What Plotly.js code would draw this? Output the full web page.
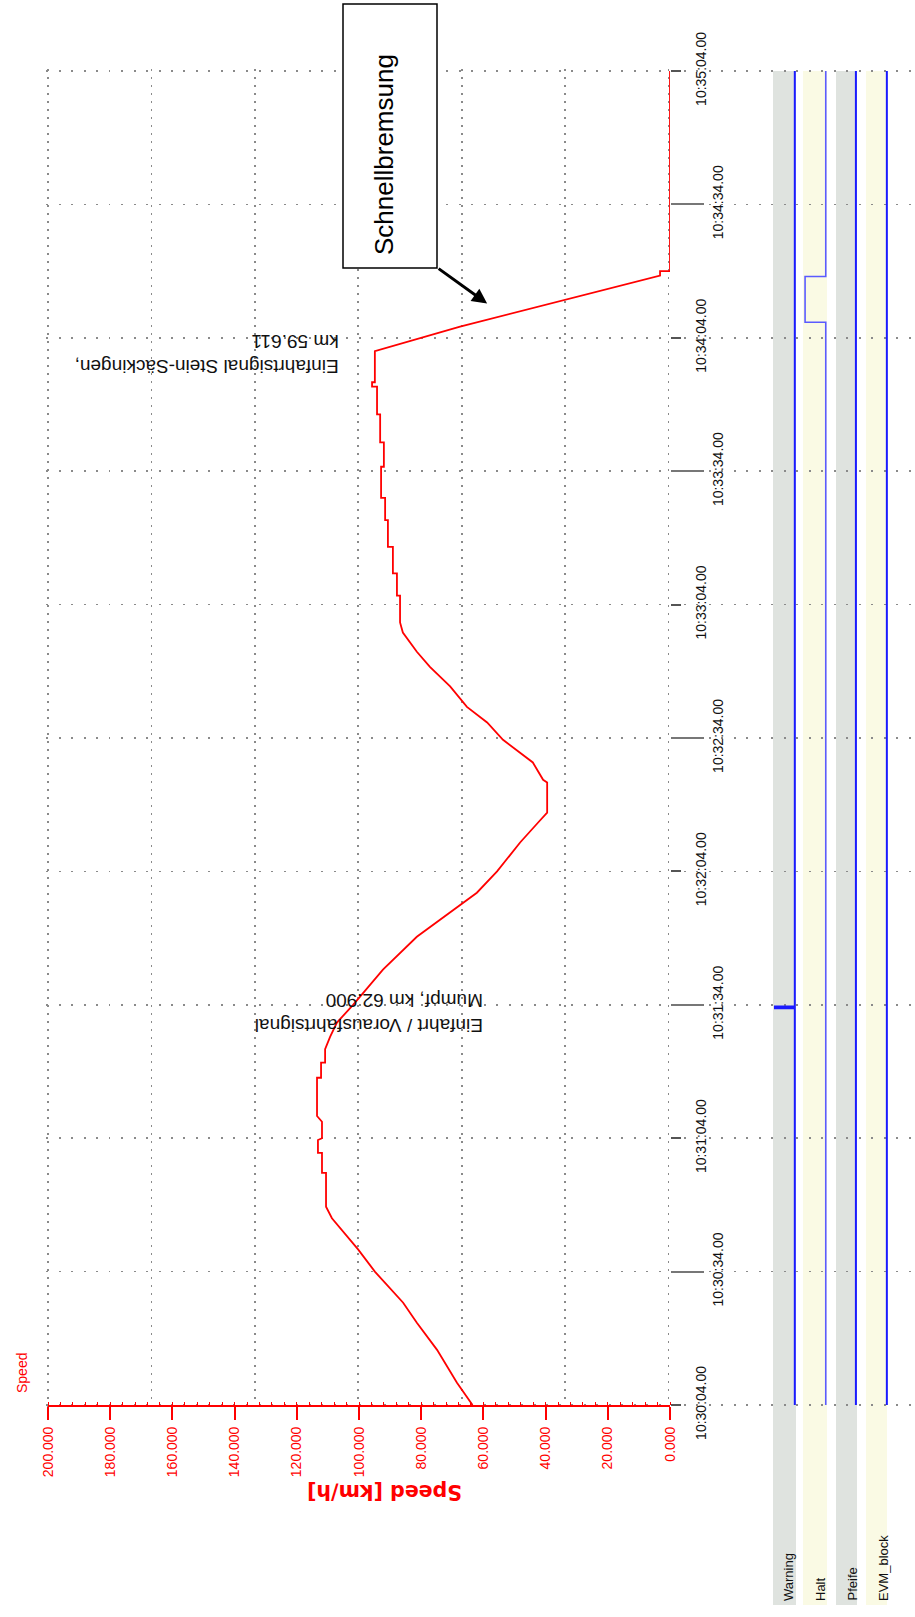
<!DOCTYPE html>
<html>
<head>
<meta charset="utf-8">
<script src="https://cdn.plot.ly/plotly-3.0.1.min.js"></script>
<style>html,body{margin:0;padding:0;background:#fff;}#chart{width:915px;height:1617px;}</style>
</head>
<body>
<div id="chart"></div>
<script>
// ---- data ----
const speedTimes = ['10:30:04','10:30:09','10:30:16.4','10:30:22.5','10:30:27','10:30:34','10:30:39','10:30:43','10:30:46','10:30:48.6','10:30:56.2','10:30:56.2','10:31:00.7','10:31:00.7','10:31:03.6','10:31:04','10:31:07.7','10:31:09','10:31:17.6','10:31:17.6','10:31:21','10:31:21','10:31:24','10:31:26.8','10:31:30','10:31:34','10:31:41.9','10:31:49.3','10:31:54.7','10:31:59.2','10:32:04','10:32:10.5','10:32:15','10:32:17.2','10:32:24','10:32:24.6','10:32:28.5','10:32:30.7','10:32:33.6','10:32:37.5','10:32:41','10:32:45.6','10:32:50','10:32:53.4','10:32:57.7','10:33:00','10:33:06','10:33:06','10:33:11','10:33:11','10:33:17','10:33:17','10:33:23','10:33:23','10:33:28','10:33:28','10:33:35','10:33:35','10:33:40.5','10:33:40.5','10:33:46.8','10:33:46.8','10:33:53','10:33:53','10:33:54','10:33:54','10:34:01','10:34:06.5','10:34:18','10:34:19','10:34:19','10:35:04'];
const speedValues = [63.5,68.5,74.9,81.4,85.8,94.9,100.3,105.1,108.7,110.6,110.6,111.9,111.9,113.2,113.2,111.9,111.9,113.5,113.5,112.2,112.2,110.9,110.9,109.3,107.1,101.9,92.3,81.4,70.7,62.1,55.6,48.2,42.4,39.5,39.5,40.8,44.1,48.2,53.7,58.8,65.3,70.7,77.2,81.4,85.9,86.8,86.8,87.8,87.8,89.1,89.1,90.7,90.7,91.6,91.6,92.9,92.9,92.0,92.0,93.2,93.2,94.2,94.2,95.8,95.8,94.9,94.9,67.5,3.2,3.2,0,0];

const channelNames = ['Warning','Halt','Pfeife','EVM_block'];
const warningTimes = ['10:30:04','10:31:33.2','10:31:33.2','10:31:33.6','10:31:33.6','10:35:04'];
const warningValues = [0,0,1,1,0,0];
const haltTimes = ['10:30:04','10:34:07.5','10:34:07.5','10:34:17.8','10:34:17.8','10:35:04'];
const haltValues = [0,0,1,1,0,0];
const pfeifeTimes = ['10:30:04','10:35:04'];
const pfeifeValues = [0,0];
const evmTimes = ['10:30:04','10:35:04'];
const evmValues = [0,0];

const speedTickVals = [0,20,40,60,80,100,120,140,160,180,200];
const speedTickLabels = ['0.000','20.000','40.000','60.000','80.000','100.000','120.000','140.000','160.000','180.000','200.000'];
const timeTicksA = ['10:30:04','10:31:04','10:32:04','10:33:04','10:34:04','10:35:04'];
const timeLabelsA = ['10:30:04.00','10:31:04.00','10:32:04.00','10:33:04.00','10:34:04.00','10:35:04.00'];
const timeTicksB = ['10:30:34','10:31:34','10:32:34','10:33:34','10:34:34'];
const timeLabelsB = ['10:30:34.00','10:31:34.00','10:32:34.00','10:33:34.00','10:34:34.00'];

const note1 = {text: 'Einfahrtsignal Stein-Säckingen,<br>km 59.611', speed: 106, time: '10:34:00.5'};
const note2 = {text: 'Einfahrt / Vorausfahrtsignal<br>Mumpf, km 62.900', speed: 59.5, time: '10:31:32.2'};
const brakeNote = {text: 'Schnellbremsung', speed: 58.8, time: '10:34:11.7'};

// ---- helpers ----
const D = s => '2000-01-01 ' + s;
const W = 915, H = 1617;
const px = v => v / W;
const py = v => 1 - v / H;
const NARROW = '"Liberation Sans Narrow", "Arial Narrow", "Liberation Sans", Arial, sans-serif';
const RED = '#ff0000';
const GRID = '#8a8a8a';
const KMH_PER_PX = 200 / 622;            // speed axis scale (200 km/h over 622 px)
const tRange = [D('10:30:04'), D('10:35:04')];
const tRangeWide = [D('10:30:03.55'), D('10:35:04.45')];
const yDom = [py(1405), py(71)];
const yDomWide = [py(1407), py(69)];
const gridSpeedVals = [0,1,2,3,4,5,6].map(i => i * 100 / 3);

const traces = [
  // background grid subplot (no marks)
  {x: [], y: [], xaxis: 'x', yaxis: 'y', type: 'scatter', mode: 'lines', hoverinfo: 'skip'},
  {x: speedValues, y: speedTimes.map(D), xaxis: 'x2', yaxis: 'y2', type: 'scatter', mode: 'lines',
   line: {color: RED, width: 1.8}, hoverinfo: 'skip'},
  {x: warningValues, y: warningTimes.map(D), xaxis: 'x3', yaxis: 'y3', type: 'scatter', mode: 'lines', line: {color: '#1a1aff', width: 2}},
  {x: haltValues, y: haltTimes.map(D), xaxis: 'x4', yaxis: 'y3', type: 'scatter', mode: 'lines', line: {color: '#5a5aff', width: 1.6}},
  {x: pfeifeValues, y: pfeifeTimes.map(D), xaxis: 'x5', yaxis: 'y3', type: 'scatter', mode: 'lines', line: {color: '#1a1aff', width: 2}},
  {x: evmValues, y: evmTimes.map(D), xaxis: 'x6', yaxis: 'y3', type: 'scatter', mode: 'lines', line: {color: '#1a1aff', width: 2}}
];

const hidden = {showticklabels: false, showline: false, showgrid: false, zeroline: false, ticks: ''};
const chanRange = [1.1, -0.06];

const bands = [[773,796,'#dfe3df'],[803,827,'#fafae4'],[836,857,'#dfe3df'],[866,887,'#fafae4']];
const shapes = bands.map(b => ({type: 'rect', xref: 'paper', yref: 'paper', x0: px(b[0]), x1: px(b[1]), y0: py(1605), y1: py(71),
  fillcolor: b[2], line: {width: 0}, layer: 'below'}));
shapes.push({type: 'rect', xref: 'paper', yref: 'paper', x0: px(343), x1: px(437), y0: py(268), y1: py(4),
  fillcolor: '#ffffff', line: {color: '#000', width: 1.5}, layer: 'above'});

const chanX = [788, 820, 852, 883];
const annotations = [
  {text: 'Speed', xref: 'paper', yref: 'paper', x: px(22), y: py(1373), xanchor: 'center', yanchor: 'middle', showarrow: false, textangle: -90,
   font: {family: NARROW, size: 14, color: RED}},
  {text: '<b>Speed [km/h]</b>', xref: 'paper', yref: 'paper', x: px(385), y: py(1492), xanchor: 'center', yanchor: 'middle', showarrow: false, textangle: 180,
   font: {family: 'DejaVu Sans, sans-serif', size: 20.5, color: RED}},
  {text: note1.text, xref: 'x2', yref: 'y2', x: note1.speed, y: D(note1.time), xanchor: 'right', yanchor: 'middle',
   showarrow: false, textangle: 180, align: 'left', font: {family: 'Liberation Sans, Arial, sans-serif', size: 19, color: '#111'}},
  {text: note2.text, xref: 'x2', yref: 'y2', x: note2.speed, y: D(note2.time), xanchor: 'right', yanchor: 'middle',
   showarrow: false, textangle: 180, align: 'left', font: {family: 'Liberation Sans, Arial, sans-serif', size: 19, color: '#111'}},
  {text: brakeNote.text, xref: 'paper', yref: 'paper', x: px(384), y: py(155), xanchor: 'center', yanchor: 'middle', showarrow: false, textangle: -90,
   font: {family: 'Liberation Sans, Arial, sans-serif', size: 26, color: '#000'}},
  {text: '', xref: 'x2', yref: 'y2', x: brakeNote.speed, y: D(brakeNote.time), ax: -50, ay: -36, showarrow: true,
   arrowhead: 2, arrowsize: 1, arrowwidth: 3, arrowcolor: '#000', standoff: 0}
];
channelNames.forEach((n, i) => annotations.push({text: n, xref: 'paper', yref: 'paper', x: px(chanX[i]), y: py(1603),
  yanchor: 'bottom', xanchor: 'center', showarrow: false, textangle: -90, font: {family: NARROW, size: 13, color: '#111'}}));

const layout = {
  width: W, height: H, autosize: false,
  margin: {l: 0, r: 0, t: 0, b: 0},
  paper_bgcolor: '#ffffff', plot_bgcolor: 'rgba(0,0,0,0)',
  showlegend: false,
  shapes: shapes,
  annotations: annotations,
  // grid subplot: vertical dotted lines in the speed area, horizontal dotted lines across the full width
  xaxis: {domain: [px(46), 1], range: [200 + 2 * KMH_PER_PX, 200 - 869 * KMH_PER_PX], anchor: 'y',
    tickmode: 'array', tickvals: gridSpeedVals, showticklabels: false, ticks: '',
    showgrid: true, gridcolor: GRID, gridwidth: 1.6, griddash: '2px,6px', showline: false, zeroline: false},
  // time axis with :04 ticks (short) + dotted grid every 30 s
  yaxis: {domain: yDomWide, range: tRangeWide, type: 'date', anchor: 'free', position: px(670), side: 'right',
    tickmode: 'array', tickvals: timeTicksA.map(D), ticktext: timeLabelsA,
    ticks: 'outside', ticklen: 10, tickwidth: 2, tickcolor: '#555',
    tickangle: -90, tickfont: {family: NARROW, size: 14, color: '#111'}, ticklabelstandoff: 8,
    showgrid: true, gridcolor: GRID, gridwidth: 1.6, griddash: '2px,10.5px', showline: false, zeroline: false,
    minor: {tickmode: 'linear', tick0: D('10:30:34'), dtick: 60000, ticks: '', showgrid: true,
      gridcolor: GRID, gridwidth: 1.6, griddash: '2px,10.5px'}},
  // labelled speed axis
  xaxis2: {domain: [px(48), px(670)], range: [200, 0], anchor: 'y2', side: 'bottom', tickmode: 'array',
    tickvals: speedTickVals, ticktext: speedTickLabels, ticks: 'outside', ticklen: 13, tickwidth: 2, tickcolor: RED,
    tickangle: -90, tickfont: {family: NARROW, size: 14, color: RED}, ticklabelstandoff: 1,
    showline: true, linecolor: RED, linewidth: 2, showgrid: false, zeroline: false,
    minor: {tickmode: 'linear', tick0: 0, dtick: 4, ticks: 'inside', ticklen: 3, tickwidth: 1, tickcolor: RED, showgrid: false}},
  // time axis with :34 ticks (long)
  yaxis2: {domain: yDom, range: tRange, type: 'date', anchor: 'x2', side: 'right', tickmode: 'array',
    tickvals: timeTicksB.map(D), ticktext: timeLabelsB, ticks: 'outside', ticklen: 33, tickwidth: 2, tickcolor: '#777',
    tickangle: -90, tickfont: {family: NARROW, size: 14, color: '#111'}, ticklabelstandoff: 2,
    showgrid: false, showline: false, zeroline: false},
  // channel strips
  yaxis3: Object.assign({domain: yDom, range: tRange, type: 'date', anchor: 'x3'}, hidden),
  xaxis3: Object.assign({domain: [px(773), px(796)], anchor: 'y3', range: chanRange}, hidden),
  xaxis4: Object.assign({domain: [px(803), px(827)], anchor: 'y3', range: chanRange}, hidden),
  xaxis5: Object.assign({domain: [px(836), px(857)], anchor: 'y3', range: chanRange}, hidden),
  xaxis6: Object.assign({domain: [px(866), px(888)], anchor: 'y3', range: chanRange}, hidden)
};

Plotly.newPlot('chart', traces, layout, {staticPlot: true, displayModeBar: false});
</script>
</body>
</html>
